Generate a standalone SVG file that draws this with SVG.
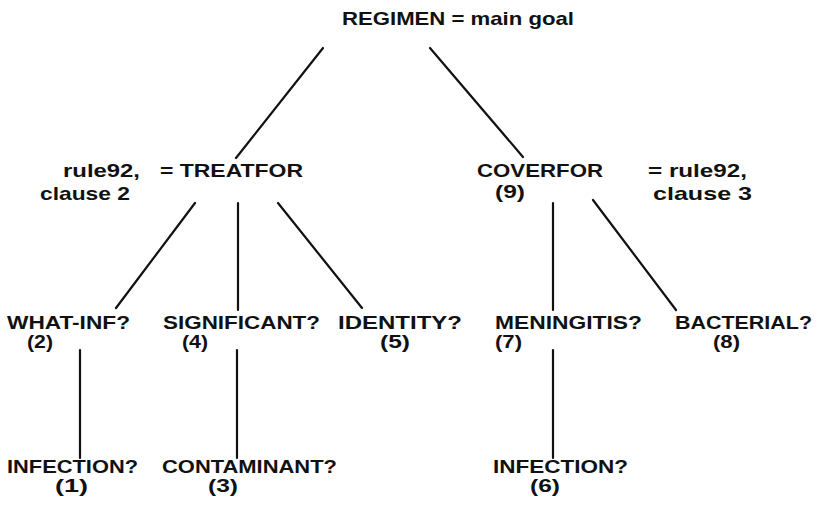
<svg xmlns="http://www.w3.org/2000/svg" width="818" height="507" viewBox="0 0 818 507">
<style>
text{font-family:"Liberation Sans",Arial,sans-serif;font-weight:bold;font-size:19px;fill:#111}
text.n{font-size:18px}
.c line{stroke:#111;stroke-width:2.2;stroke-linecap:round}
</style>
<rect width="818" height="507" fill="#fff"/>
<g class="c" id="connectors">
<line x1="323" y1="48" x2="236" y2="158"/>
<line x1="430" y1="48" x2="523" y2="157"/>
<line x1="195" y1="203" x2="116" y2="308"/>
<line x1="238" y1="203" x2="238" y2="310"/>
<line x1="278" y1="203" x2="362" y2="308"/>
<line x1="553" y1="203" x2="553" y2="310"/>
<line x1="593" y1="200" x2="676" y2="310"/>
<line x1="80" y1="350" x2="80" y2="458"/>
<line x1="237" y1="350" x2="237" y2="458"/>
<line x1="553" y1="350" x2="553" y2="458"/>
</g>
<g id="regimen"><text x="342" y="25" textLength="232" lengthAdjust="spacingAndGlyphs">REGIMEN = main goal</text></g>
<g id="treatfor">
<text x="63" y="177" textLength="77" lengthAdjust="spacingAndGlyphs">rule92,</text>
<text x="40" y="200" textLength="90" lengthAdjust="spacingAndGlyphs">clause 2</text>
<text x="160" y="177" textLength="143" lengthAdjust="spacingAndGlyphs">= TREATFOR</text>
</g>
<g id="coverfor">
<text x="477" y="177" textLength="126" lengthAdjust="spacingAndGlyphs">COVERFOR</text>
<text class="n" x="495" y="198" textLength="30" lengthAdjust="spacingAndGlyphs">(9)</text>
<text x="648" y="177" textLength="99" lengthAdjust="spacingAndGlyphs">= rule92,</text>
<text x="653" y="200" textLength="99" lengthAdjust="spacingAndGlyphs">clause 3</text>
</g>
<g id="whatinf">
<text x="7" y="329" textLength="123" lengthAdjust="spacingAndGlyphs">WHAT-INF?</text>
<text class="n" x="27" y="348" textLength="26" lengthAdjust="spacingAndGlyphs">(2)</text>
</g>
<g id="significant">
<text x="163" y="329" textLength="157" lengthAdjust="spacingAndGlyphs">SIGNIFICANT?</text>
<text class="n" x="182" y="348" textLength="26" lengthAdjust="spacingAndGlyphs">(4)</text>
</g>
<g id="identity">
<text x="338" y="329" textLength="124" lengthAdjust="spacingAndGlyphs">IDENTITY?</text>
<text class="n" x="380" y="348" textLength="30" lengthAdjust="spacingAndGlyphs">(5)</text>
</g>
<g id="meningitis">
<text x="495" y="329" textLength="147" lengthAdjust="spacingAndGlyphs">MENINGITIS?</text>
<text class="n" x="495" y="348" textLength="27" lengthAdjust="spacingAndGlyphs">(7)</text>
</g>
<g id="bacterial">
<text x="675" y="329" textLength="137" lengthAdjust="spacingAndGlyphs">BACTERIAL?</text>
<text class="n" x="713" y="348" textLength="27" lengthAdjust="spacingAndGlyphs">(8)</text>
</g>
<g id="infection1">
<text x="7" y="473" textLength="131" lengthAdjust="spacingAndGlyphs">INFECTION?</text>
<text class="n" x="55" y="492" textLength="33" lengthAdjust="spacingAndGlyphs">(1)</text>
</g>
<g id="contaminant">
<text x="162" y="473" textLength="175" lengthAdjust="spacingAndGlyphs">CONTAMINANT?</text>
<text class="n" x="208" y="492" textLength="30" lengthAdjust="spacingAndGlyphs">(3)</text>
</g>
<g id="infection6">
<text x="493" y="473" textLength="135" lengthAdjust="spacingAndGlyphs">INFECTION?</text>
<text class="n" x="530" y="492" textLength="30" lengthAdjust="spacingAndGlyphs">(6)</text>
</g>
</svg>
